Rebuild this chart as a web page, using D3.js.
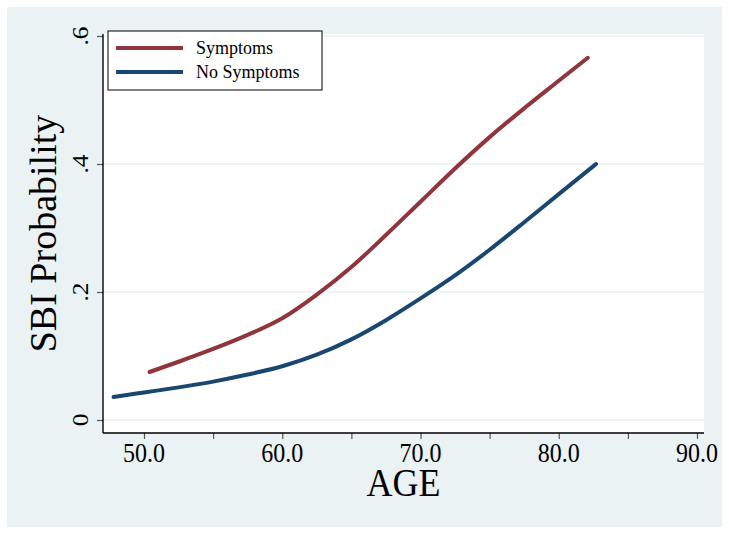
<!DOCTYPE html>
<meta charset="utf-8">
<style>
body { margin: 0; background: #fff; }
text { font-family: "Liberation Serif", "Times New Roman", serif; fill: #000; }
.grid line { stroke: #eaf2f3; stroke-width: 1.5; }
</style>
<svg id="svg" width="729" height="534"></svg>
<script src="https://d3js.org/d3.v7.min.js"></script>
<script>
// values
var symAge = [50.4, 52.5, 55, 57.5, 60, 62.5, 65, 67.5, 70, 72.5, 75, 77.5, 80, 82.1];
var symP   = [0.075, 0.091, 0.111, 0.133, 0.159, 0.196, 0.239, 0.289, 0.341, 0.393, 0.442, 0.487, 0.530, 0.566];
var noAge  = [47.8, 50, 52.5, 55, 57.5, 60, 62.5, 65, 67.5, 70, 72.5, 75, 77.5, 80, 82.7];
var noP    = [0.036, 0.043, 0.051, 0.060, 0.071, 0.084, 0.102, 0.126, 0.156, 0.190, 0.226, 0.266, 0.309, 0.353, 0.400];
var xTicks = [50, 60, 70, 80, 90];
var xMinor = [55, 65, 75, 85];
var yTicks = [0, 0.2, 0.4, 0.6];
var legendLabels = ["Symptoms", "No Symptoms"];
var colors = ["#90353b", "#1a476f"];

var svg = d3.select("svg");
var plot = {left: 103, right: 704, top: 34, bottom: 433};

var x = d3.scaleLinear().domain([50, 90]).range([144, 697]);
var y = d3.scaleLinear().domain([0, 0.6]).range([420, 36]);

// graph region and plot region
svg.append("rect").attr("x", 7).attr("y", 7).attr("width", 715).attr("height", 520).attr("fill", "#eaf2f3");
svg.append("rect").attr("x", plot.left).attr("y", plot.top)
    .attr("width", plot.right - plot.left).attr("height", plot.bottom - plot.top).attr("fill", "#fff");

// gridlines
svg.append("g").attr("class", "grid")
  .selectAll("line").data(yTicks).enter().append("line")
    .attr("x1", plot.left).attr("x2", plot.right)
    .attr("y1", function(d) { return y(d); }).attr("y2", function(d) { return y(d); });

// y axis
var yAxis = svg.append("g").attr("transform", "translate(" + plot.left + ",0)")
    .call(d3.axisLeft(y).tickValues(yTicks).tickSize(6).tickFormat(""));
yAxis.select(".domain").remove();
yAxis.selectAll(".tick line").attr("stroke", "#555").attr("stroke-width", 1.2);
svg.append("line").attr("x1", plot.left).attr("x2", plot.left)
    .attr("y1", plot.top).attr("y2", plot.bottom).attr("stroke", "#000").attr("stroke-width", 1.4);
svg.selectAll(".ylab").data(yTicks).enter().append("text")
    .attr("class", "ylab")
    .attr("transform", function(d) { return "translate(88," + y(d) + ") rotate(-90) scale(1.1,1)"; })
    .attr("text-anchor", "middle")
    .style("font-size", "23px")
    .text(function(d) { return d === 0 ? "0" : d3.format(".1f")(d).replace(/^0/, ""); });

// x axis
var xAxis = svg.append("g").attr("transform", "translate(0," + plot.bottom + ")")
    .call(d3.axisBottom(x).tickValues(xTicks.concat(xMinor)).tickSize(6).tickFormat(""));
xAxis.select(".domain").remove();
xAxis.selectAll(".tick line").attr("stroke", "#555").attr("stroke-width", 1.2);
svg.append("line").attr("x1", plot.left).attr("x2", plot.right)
    .attr("y1", plot.bottom).attr("y2", plot.bottom).attr("stroke", "#000").attr("stroke-width", 1.4);
svg.selectAll(".xlab").data(xTicks).enter().append("text")
    .attr("class", "xlab")
    .attr("transform", function(d) { return "translate(" + x(d) + ",462) scale(1,1.15)"; })
    .attr("text-anchor", "middle")
    .style("font-size", "24px")
    .text(function(d) { return d3.format(".1f")(d); });

// titles
svg.append("text")
    .attr("transform", "translate(" + ((plot.left + plot.right) / 2) + ",496) scale(1,1.1)")
    .attr("text-anchor", "middle").style("font-size", "36px").text("AGE");
svg.append("text")
    .attr("transform", "translate(56," + ((plot.top + plot.bottom) / 2) + ") rotate(-90)")
    .attr("text-anchor", "middle").style("font-size", "38px").text("SBI Probability");

// curves
var line = d3.line()
    .x(function(d) { return x(d[0]); })
    .y(function(d) { return y(d[1]); })
    .curve(d3.curveMonotoneX);
var series = [d3.zip(symAge, symP), d3.zip(noAge, noP)];
svg.selectAll(".curve").data(series).enter().append("path")
    .attr("class", "curve")
    .attr("d", line)
    .attr("fill", "none")
    .attr("stroke", function(d, i) { return colors[i]; })
    .attr("stroke-width", 4)
    .attr("stroke-linecap", "round");

// legend
var leg = svg.append("g").attr("transform", "translate(108,31)");
leg.append("rect").attr("width", 214).attr("height", 59)
    .attr("fill", "#fff").attr("stroke", "#000").attr("stroke-width", 1);
var items = leg.selectAll(".item").data(legendLabels).enter().append("g")
    .attr("transform", function(d, i) { return "translate(0," + (17 + i * 24) + ")"; });
items.append("line").attr("x1", 8).attr("x2", 75)
    .attr("stroke", function(d, i) { return colors[i]; }).attr("stroke-width", 4);
items.append("text").attr("x", 88).attr("y", 6)
    .attr("transform", "scale(1,1)")
    .style("font-size", "18px").text(function(d) { return d; });
</script>
